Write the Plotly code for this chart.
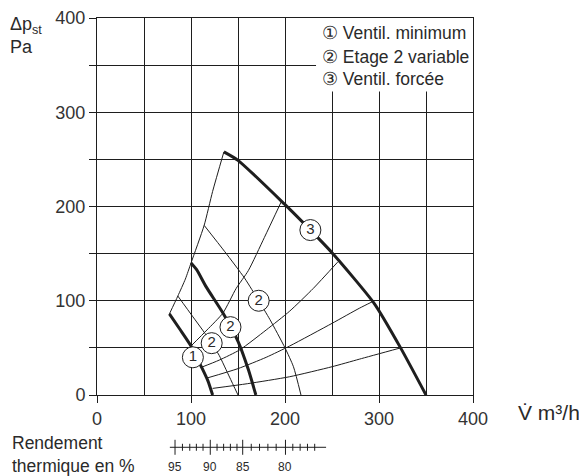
import plotly.graph_objects as go

# ---- fan curves (thick) ----
flow_1 = [77, 88, 100, 111, 118, 123]
dp_1 = [86, 70, 52, 30, 15, 0]
flow_2 = [100, 106, 116, 134, 150, 161, 169]
dp_2 = [140, 133, 115, 87, 57, 27, 0]
flow_3 = [135, 150, 199, 227, 250, 295, 323, 350]
dp_3 = [258, 249, 203, 175, 151, 97, 50, 0]

# ---- thin curves ----
flow_edge = [77, 86, 94, 100, 114, 123, 135]
dp_edge = [86, 105, 123, 140, 180, 216, 258]
flow_e = [86, 102, 113, 122, 130, 141, 150]
dp_e = [105, 83, 68, 55, 42, 19, 0]
flow_f = [114, 136, 157, 172, 184, 200, 209, 217]
dp_f = [180, 152, 124, 100, 80, 50, 30, 0]
flow_a = [100, 117, 134, 148, 161, 178, 196]
dp_a = [52, 69, 87, 113, 132, 167, 205]
flow_b = [110, 130, 152, 180, 205, 230, 256]
dp_b = [29, 37, 48, 69, 89, 113, 141]
flow_c = [117, 150, 180, 205, 250, 279, 293]
dp_c = [18, 28, 40, 52, 76, 92, 99]
flow_d = [123, 160, 205, 250, 279, 323]
dp_d = [7, 12, 19.4, 30, 38, 50]

# ---- circled labels ----
label_flow = [102, 122, 142, 172, 227]
label_dp = [40, 55, 72, 100, 175]
label_text = ["1", "2", "2", "2", "3"]

# ---- legend text ----
legend_labels = ["① Ventil. minimum", "② Etage 2 variable", "③ Ventil. forcée"]
legend_dp = [384, 358.6, 335.3]

# ---- efficiency scale ----
eff_major = [95, 90, 85, 80]
eff_major_flow = [83, 120.5, 155, 200.5]
eff_minor_flow = [90.9, 98.7, 105.7, 112.8, 127.7, 134.7, 141.9, 148.9,
                  164.1, 172.9, 181.8, 190.6, 208.3, 216.1, 223.9, 231.6]
eff_line_range = [77.5, 243.7]

x_ticks = [0, 100, 200, 300, 400]
y_ticks = [0, 100, 200, 300, 400]

INK = "#1e1e1e"
TXT = "#2a2a2a"
SANS = "Liberation Sans, Arial, Helvetica, sans-serif"

fig = go.Figure()

for fx, fy in [(flow_edge, dp_edge), (flow_e, dp_e), (flow_f, dp_f),
               (flow_a, dp_a), (flow_b, dp_b), (flow_c, dp_c), (flow_d, dp_d)]:
    fig.add_trace(go.Scatter(x=fx, y=fy, mode="lines",
                             line=dict(color=INK, width=1, shape="spline", smoothing=0.6),
                             hoverinfo="skip", showlegend=False))

for fx, fy in [(flow_1, dp_1), (flow_2, dp_2), (flow_3, dp_3)]:
    fig.add_trace(go.Scatter(x=fx, y=fy, mode="lines",
                             line=dict(color=INK, width=3, shape="spline", smoothing=0.6),
                             hoverinfo="skip", showlegend=False))

fig.add_trace(go.Scatter(x=label_flow, y=label_dp, mode="markers+text",
                         text=label_text, textposition="middle center",
                         textfont=dict(family=SANS, size=15, color=TXT),
                         marker=dict(size=21, color="white", line=dict(color=INK, width=1)),
                         hoverinfo="skip", showlegend=False))

shapes = [dict(type="rect", xref="x", yref="y", x0=233, x1=400, y0=322, y1=400,
               fillcolor="white", line=dict(width=0), layer="between")]

# efficiency scale
ys = -0.1387
shapes.append(dict(type="line", xref="x", yref="paper", x0=eff_line_range[0], x1=eff_line_range[1],
                   y0=ys, y1=ys, line=dict(color=INK, width=1)))
for fx in eff_major_flow:
    shapes.append(dict(type="line", xref="x", yref="paper", x0=fx, x1=fx,
                       y0=ys - 0.0199, y1=ys + 0.0199, line=dict(color=INK, width=1)))
for fx in eff_minor_flow:
    shapes.append(dict(type="line", xref="x", yref="paper", x0=fx, x1=fx,
                       y0=ys - 0.0093, y1=ys + 0.0093, line=dict(color=INK, width=1)))

annotations = []
for txt, yy in zip(legend_labels, legend_dp):
    annotations.append(dict(text=txt, x=237, y=yy, xref="x", yref="y",
                            xanchor="left", yanchor="middle", showarrow=False,
                            font=dict(family=SANS, size=17.5, color=TXT)))
for val, fx in zip(eff_major, eff_major_flow):
    annotations.append(dict(text=str(val), x=fx, y=-0.1915, xref="x", yref="paper",
                            xanchor="center", yanchor="middle", showarrow=False,
                            font=dict(family=SANS, size=12, color=TXT)))
annotations.append(dict(text="Δp<sub>st</sub><br>Pa",
                        x=-0.2367, y=1.016, xref="paper", yref="paper",
                        xanchor="left", yanchor="top", align="left", showarrow=False,
                        font=dict(family=SANS, size=18, color=TXT)))
annotations.append(dict(text="V̇ m³/h", x=1.115, y=-0.0477, xref="paper", yref="paper",
                        xanchor="left", yanchor="middle", showarrow=False,
                        font=dict(family=SANS, size=21, color=TXT)))
annotations.append(dict(text="Rendement<br>thermique en %", x=-0.2314, y=-0.0955,
                        xref="paper", yref="paper", xanchor="left", yanchor="top",
                        align="left", showarrow=False,
                        font=dict(family=SANS, size=17.5, color=TXT)))

fig.update_layout(
    width=579, height=468,
    margin=dict(l=89, r=114, t=10, b=81, autoexpand=False),
    paper_bgcolor="white", plot_bgcolor="white",
    shapes=shapes, annotations=annotations,
    xaxis=dict(range=[0, 400], tickvals=x_ticks, ticktext=[str(v) for v in x_ticks],
               ticks="outside", ticklen=7, tickcolor=INK, showgrid=True, gridcolor=INK,
               gridwidth=1, zeroline=False, showline=True, mirror=True, linecolor=INK,
               linewidth=1, tickfont=dict(family=SANS, size=18, color="#333"),
               minor=dict(dtick=50, showgrid=True, gridcolor=INK, gridwidth=1, ticks=""),
               fixedrange=True),
    yaxis=dict(range=[0, 400], tickvals=y_ticks, ticktext=[str(v) for v in y_ticks],
               ticks="outside", ticklen=7, tickcolor=INK, showgrid=True, gridcolor=INK,
               gridwidth=1, zeroline=False, showline=True, mirror=True, linecolor=INK,
               linewidth=1, tickfont=dict(family=SANS, size=18, color="#333"),
               minor=dict(dtick=50, showgrid=True, gridcolor=INK, gridwidth=1,
                          ticks="outside", ticklen=7, tickcolor=INK),
               fixedrange=True),
)

fig.write_html("out.html")
